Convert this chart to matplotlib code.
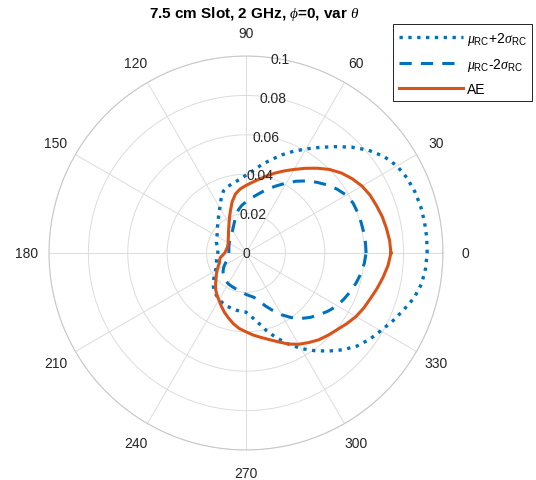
import numpy as np
import matplotlib
matplotlib.use("Agg")
import matplotlib.pyplot as plt

plt.rcParams['font.family'] = ['Liberation Sans', 'DejaVu Sans']
plt.rcParams['mathtext.fontset'] = 'custom'
plt.rcParams['mathtext.rm'] = 'Liberation Sans'
plt.rcParams['mathtext.it'] = 'Liberation Serif:italic'
plt.rcParams['mathtext.sf'] = 'Liberation Sans'

# angles in degrees (theta)
theta_deg = list(range(0, 361, 5))

rc_plus = [0.092, 0.0921, 0.092, 0.0918, 0.0912, 0.0902, 0.0885, 0.0855, 0.0812, 0.076,
           0.0705, 0.0655, 0.061, 0.057, 0.053, 0.049, 0.0455, 0.042, 0.0395, 0.0375,
           0.0362, 0.035, 0.0335, 0.030, 0.0265, 0.024, 0.022, 0.0203, 0.019, 0.0178,
           0.0170, 0.0165, 0.0160, 0.0152, 0.0146, 0.0143, 0.0143, 0.0146, 0.0150, 0.0155,
           0.016, 0.0167, 0.0178, 0.0195, 0.0215, 0.0235, 0.0250, 0.0262, 0.0272, 0.028,
           0.0286, 0.029, 0.0294, 0.0297, 0.030, 0.0325, 0.036, 0.041, 0.046, 0.051,
           0.056, 0.0605, 0.065, 0.0695, 0.0735, 0.0765, 0.079, 0.082, 0.085, 0.0883,
           0.0905, 0.0915, 0.092]

rc_minus = [0.061, 0.0609, 0.0607, 0.0605, 0.0603, 0.060, 0.0588, 0.0565, 0.0538, 0.0508,
            0.0478, 0.0445, 0.041, 0.0378, 0.035, 0.0322, 0.0298, 0.0278, 0.026, 0.0243,
            0.0222, 0.0195, 0.017, 0.015, 0.0135, 0.0125, 0.0117, 0.0111, 0.0106, 0.0102,
            0.0098, 0.0095, 0.0092, 0.009, 0.0088, 0.0087, 0.0087, 0.0089, 0.0092, 0.0096,
            0.0102, 0.0113, 0.0127, 0.014, 0.0152, 0.0161, 0.0168, 0.0175, 0.018, 0.0183,
            0.0186, 0.019, 0.0195, 0.0202, 0.021, 0.0218, 0.0228, 0.025, 0.0285, 0.0322,
            0.0362, 0.0400, 0.0434, 0.0462, 0.0487, 0.0512, 0.0535, 0.055, 0.0566, 0.058,
            0.0593, 0.0603, 0.061]

ae = [0.0736, 0.0732, 0.0724, 0.0716, 0.0705, 0.0695, 0.068, 0.0658, 0.0632, 0.060,
      0.0562, 0.0525, 0.049, 0.046, 0.0432, 0.0405, 0.038, 0.036, 0.0343, 0.0327,
      0.0305, 0.027, 0.023, 0.0198, 0.0172, 0.0153, 0.0138, 0.0126, 0.0117, 0.011,
      0.0104, 0.0101, 0.0099, 0.0099, 0.0101, 0.0104, 0.0108, 0.0118, 0.0132, 0.0139,
      0.0143, 0.0155, 0.0168, 0.0183, 0.0198, 0.0218, 0.024, 0.0258, 0.0275, 0.0297,
      0.032, 0.0342, 0.0365, 0.0385, 0.040, 0.0418, 0.0435, 0.0455, 0.048, 0.051,
      0.0535, 0.0555, 0.0575, 0.059, 0.0605, 0.0625, 0.0645, 0.066, 0.0673, 0.069,
      0.0707, 0.0724, 0.0736]

r_ticks = [0, 0.02, 0.04, 0.06, 0.08, 0.1]
r_labels = ['0', '0.02', '0.04', '0.06', '0.08', '0.1']
theta_ticks = list(range(0, 360, 30))

blue = '#0072BD'
orange = '#D95319'

fig = plt.figure(figsize=(5.36, 4.81), dpi=100)
ax = fig.add_axes([0.0914, 0.0624, 0.735, 0.819], projection='polar')

th = np.deg2rad(theta_deg)
ax.plot(th, rc_plus, ':', color=blue, lw=2.4, label=r'$\mu_{\mathsf{RC}}$+2$\sigma_{\mathsf{RC}}$')
ax.plot(th, rc_minus, '--', color=blue, lw=2.2, dashes=(4, 3), label=r'$\mu_{\mathsf{RC}}$-2$\sigma_{\mathsf{RC}}$')
ax.plot(th, ae, '-', color=orange, lw=2.2, label='AE')

ax.set_ylim(0, 0.1)
ax.set_yticks(r_ticks)
ax.set_yticklabels([])
for r, lab in zip(r_ticks, r_labels):
    ax.text(np.deg2rad(80), r, lab, ha='center', va='center', fontsize=10, color='#262626')

ax.set_thetagrids(theta_ticks, [str(t) for t in theta_ticks], fontsize=10, color='#262626')
ax.tick_params(axis='x', pad=6)
ax.grid(True, color='#dcdcdc', lw=0.7)
ax.spines['polar'].set_color('#c8c8c8')
ax.spines['polar'].set_linewidth(0.8)

fig.text(0.474, 0.971, r'7.5 cm Slot, 2 GHz, $\phi$=0, var $\theta$', ha='center', va='center',
         fontsize=11, fontweight='bold')

leg = fig.legend(loc='upper right', bbox_to_anchor=(0.9925, 0.948), fancybox=False,
                 edgecolor='black', framealpha=1, fontsize=10, handlelength=4.6,
                 borderpad=0.4, labelspacing=0.65, handletextpad=0.3, borderaxespad=0)
leg.get_frame().set_linewidth(0.6)

fig.savefig('out.png', dpi=100)
